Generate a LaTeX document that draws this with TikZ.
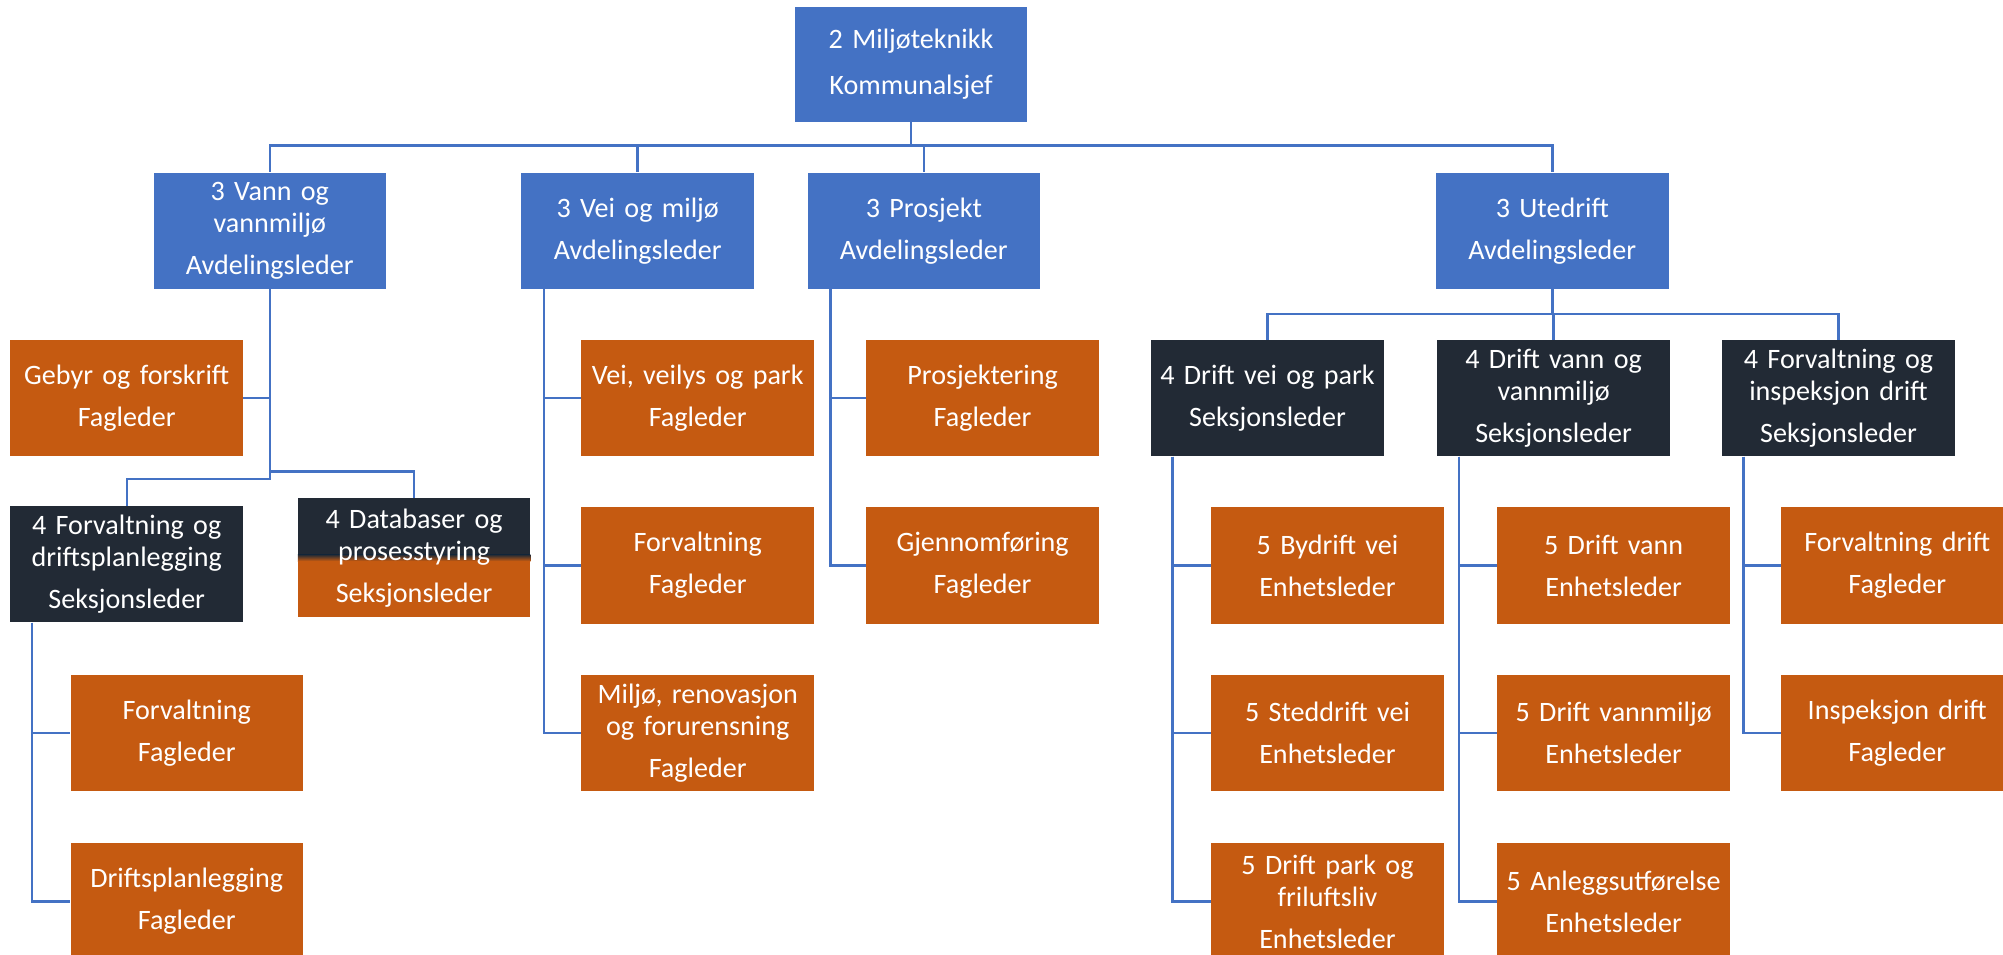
\documentclass[tikz,border=0pt]{standalone}
\usepackage{fontspec}
\setmainfont{Carlito}
\usepackage{tikz}
\usetikzlibrary{positioning}

\definecolor{avdcol}{HTML}{4472C4}
\definecolor{fagcol}{HTML}{C55A11}
\definecolor{seksjcol}{HTML}{222A35}
\definecolor{linkcol}{HTML}{4472C4}

\tikzset{
    unitbox/.style={anchor=north west, text=white, align=center, text width=176pt,
        minimum width=182pt, minimum height=91pt, inner sep=3pt,
        font=\fontsize{22}{25}\selectfont},
    avdbox/.style={unitbox, fill=avdcol},
    fagbox/.style={unitbox, fill=fagcol},
    seksbox/.style={unitbox, fill=seksjcol},
    link/.style={draw=linkcol, line width=1.9pt}
}

\begin{document}
\begin{tikzpicture}[x=1pt, y=-1pt]
    \useasboundingbox (0,0) rectangle (1568,747);
    \clip (0,0) rectangle (1568,747);

    \node[avdbox, minimum height=90pt](top) at (622,5) {2 Miljøteknikk\\[11pt]Kommunalsjef};

    \node[avdbox](vann)   at (120,135)  {3 Vann og\\vannmiljø\\[8pt]Avdelingsleder};
    \node[avdbox](vei)    at (408,135)  {3 Vei og miljø\\[8pt]Avdelingsleder};
    \node[avdbox](prosj)  at (632,135)  {3 Prosjekt\\[8pt]Avdelingsleder};
    \node[avdbox](ute)    at (1124,135) {3 Utedrift\\[8pt]Avdelingsleder};

    \node[fagbox](gebyr)  at (8,266)    {Gebyr og forskrift\\[8pt]Fagleder};
    \node[seksbox](fdp)   at (8,396)    {4 Forvaltning og\\driftsplanlegging\\[8pt]Seksjonsleder};
    \node[seksbox, minimum height=93pt,
        path picture={
            \fill[fagcol] (path picture bounding box.south west)
                rectangle ([yshift=44pt]path picture bounding box.south east);
            \shade[top color=seksjcol, bottom color=fagcol]
                ([yshift=44pt]path picture bounding box.south west)
                rectangle ([yshift=49pt]path picture bounding box.south east);
        }](dbp)           at (233,390)  {4 Databaser og\\prosesstyring\\[8pt]Seksjonsleder};
    \node[fagbox](forv1)  at (55,528)   {Forvaltning\\[8pt]Fagleder};
    \node[fagbox](dpl)    at (55,660)   {Driftsplanlegging\\[8pt]Fagleder};

    \node[fagbox](veil)   at (455,266)  {Vei, veilys og park\\[8pt]Fagleder};
    \node[fagbox](forv2)  at (455,397)  {Forvaltning\\[8pt]Fagleder};
    \node[fagbox](mrf)    at (455,528)  {Miljø, renovasjon\\og forurensning\\[8pt]Fagleder};

    \node[fagbox](pros)   at (678,266)  {Prosjektering\\[8pt]Fagleder};
    \node[fagbox](gjen)   at (678,397)  {Gjennomføring\\[8pt]Fagleder};

    \node[seksbox](dvp)   at (901,266)  {4 Drift vei og park\\[8pt]Seksjonsleder};
    \node[seksbox](dvv)   at (1125,266) {4 Drift vann og\\vannmiljø\\[8pt]Seksjonsleder};
    \node[seksbox](fid)   at (1348,266) {4 Forvaltning og\\inspeksjon drift\\[8pt]Seksjonsleder};

    \node[fagbox](byd)    at (948,397)  {5 Bydrift vei\\[8pt]Enhetsleder};
    \node[fagbox](std)    at (948,528)  {5 Steddrift vei\\[8pt]Enhetsleder};
    \node[fagbox](dpf)    at (948,660)  {5 Drift park og\\friluftsliv\\[8pt]Enhetsleder};
    \node[fagbox](dva)    at (1172,397) {5 Drift vann\\[8pt]Enhetsleder};
    \node[fagbox](dvm)    at (1172,528) {5 Drift vannmiljø\\[8pt]Enhetsleder};
    \node[fagbox](anl)    at (1172,660) {5 Anleggsutførelse\\[8pt]Enhetsleder};
    \node[fagbox](fdr)    at (1394,397) {Forvaltning drift\\[8pt]Fagleder};
    \node[fagbox](isp)    at (1394,528) {Inspeksjon drift\\[8pt]Fagleder};

    \foreach \n in {vann, vei, prosj, ute}
        \draw[link] (top.south) |- ([yshift=21pt]\n.north) -- (\n.north);

    \draw[link] (gebyr.east) -- (gebyr.east -| vann.south);
    \foreach \n in {fdp, dbp}
        \draw[link] (vann.south) |- ([yshift=21pt]\n.north) -- (\n.north);
    \foreach \n in {forv1, dpl}
        \draw[link] ([xshift=17pt]fdp.south west) |- (\n.west);

    \foreach \n in {veil, forv2, mrf}
        \draw[link] ([xshift=18pt]vei.south west) |- (\n.west);
    \foreach \n in {pros, gjen}
        \draw[link] ([xshift=18pt]prosj.south west) |- (\n.west);

    \foreach \n in {dvp, dvv, fid}
        \draw[link] (ute.south) |- ([yshift=20pt]\n.north) -- (\n.north);
    \foreach \n in {byd, std, dpf}
        \draw[link] ([xshift=17pt]dvp.south west) |- (\n.west);
    \foreach \n in {dva, dvm, anl}
        \draw[link] ([xshift=17pt]dvv.south west) |- (\n.west);
    \foreach \n in {fdr, isp}
        \draw[link] ([xshift=17pt]fid.south west) |- (\n.west);
\end{tikzpicture}
\end{document}
